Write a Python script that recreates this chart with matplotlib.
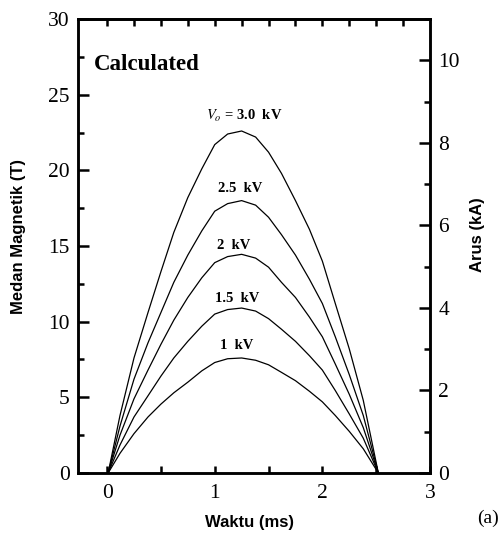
import matplotlib
matplotlib.use("Agg")
import matplotlib.pyplot as plt
from matplotlib.ticker import MultipleLocator

# ---- data ----
time_ms = [0.01, 0.12, 0.25, 0.38, 0.5, 0.62, 0.75, 0.88, 1.0, 1.12, 1.25, 1.38,
           1.5, 1.62, 1.75, 1.88, 2.0, 2.12, 2.25, 2.38, 2.52]
b_3_0kV = [0, 3.8, 7.6, 10.6, 13.3, 15.9, 18.2, 20.1, 21.7, 22.4, 22.6, 22.2,
           21.2, 19.8, 18.0, 16.1, 14.0, 11.2, 8.2, 4.8, 0]
b_2_5kV = [0, 3.1, 6.2, 8.6, 10.6, 12.6, 14.4, 16.0, 17.3, 17.8, 18.0, 17.7,
           16.9, 15.75, 14.4, 12.8, 11.2, 9.0, 6.5, 3.8, 0]
b_2_0kV = [0, 2.5, 4.9, 6.8, 8.5, 10.1, 11.6, 12.9, 13.9, 14.3, 14.45, 14.2,
           13.6, 12.6, 11.6, 10.3, 9.0, 7.2, 5.2, 3.0, 0]
b_1_5kV = [0, 1.85, 3.7, 5.1, 6.4, 7.6, 8.7, 9.7, 10.5, 10.8, 10.9, 10.7,
           10.2, 9.5, 8.7, 7.75, 6.8, 5.45, 3.9, 2.3, 0]
b_1_0kV = [0, 1.3, 2.6, 3.7, 4.55, 5.3, 6.0, 6.75, 7.3, 7.55, 7.6, 7.45,
           7.15, 6.65, 6.1, 5.4, 4.7, 3.8, 2.75, 1.6, 0]
series = [b_3_0kV, b_2_5kV, b_2_0kV, b_1_5kV, b_1_0kV]

curve_labels = [r"$V_o$ = 3.0  kV", "2.5  kV", "2  kV", "1.5  kV", "1  kV"]
label_x = [1.27, 1.24, 1.18, 1.21, 1.20]
label_y = [23.6, 18.8, 15.0, 11.55, 8.4]

x_ticks = [0, 1, 2, 3]
left_ticks = [0, 5, 10, 15, 20, 25, 30]
right_ticks = [0, 2, 4, 6, 8, 10]

plt.rcParams["font.family"] = ["Liberation Serif", "DejaVu Serif"]
plt.rcParams["mathtext.fontset"] = "stix"

fig = plt.figure(figsize=(5.02, 5.37), dpi=100)
ax = fig.add_axes([0.1554, 0.1192, 0.7012, 0.8454])

for s in series:
    ax.plot(time_ms, s, color="black", lw=0.9)

for t, xx, yy in zip(curve_labels, label_x, label_y):
    ax.text(xx, yy, t, ha="center", va="center", fontsize=10.5,
            fontweight="bold", family=["Liberation Serif", "DejaVu Serif"])

ax.text(-0.12, 27.0, "Calculated", ha="left", va="center", fontsize=16.5,
        fontweight="bold")

ax.set_xlim(-0.27, 3.0)
ax.set_ylim(0, 30)
ax.set_xticks(x_ticks)
ax.xaxis.set_minor_locator(MultipleLocator(0.5))
ax.set_yticks(left_ticks)
ax.yaxis.set_minor_locator(MultipleLocator(2.5))

ax.tick_params(axis="x", which="both", direction="in", length=5, width=1.8,
               labelsize=15.5, pad=8, top=False)
ax.tick_params(axis="y", which="major", direction="in", length=8, width=1.8,
               labelsize=15.5, pad=6)
ax.tick_params(axis="y", which="minor", direction="in", length=4.5, width=1.8)

top = ax.secondary_xaxis("top")
top.set_xticks([i * 0.25 for i in range(0, 12)])
top.tick_params(direction="in", length=5, width=1.8, labeltop=False)
top.set_xticklabels([])

ax2 = ax.twinx()
ax2.set_ylim(0, 11.0)
ax2.set_yticks(right_ticks)
ax2.yaxis.set_minor_locator(MultipleLocator(1))
ax2.tick_params(axis="y", which="major", direction="in", length=8, width=1.8,
                labelsize=15.5, pad=6)
ax2.tick_params(axis="y", which="minor", direction="in", length=4.5, width=1.8)

for a in (ax, ax2):
    for sp in a.spines.values():
        sp.set_linewidth(1.8)
top.spines["top"].set_linewidth(1.8)

lab_font = dict(family=["Liberation Sans", "DejaVu Sans"], fontweight="bold",
                fontsize=12)
ax.set_xlabel("Waktu (ms)", **lab_font)
ax.xaxis.set_label_coords(0.486, -0.108)
ax.xaxis.label.set_va("center")
ax.set_ylabel("Medan Magnetik (T)", **lab_font)
ax.yaxis.set_label_coords(-0.168, 0.52)
ax.yaxis.label.set_va("center")
ax2.set_ylabel("Arus (kA)", rotation=90, **lab_font)
ax2.yaxis.set_label_coords(1.136, 0.524)
ax2.yaxis.label.set_va("center")

fig.text(0.972, 0.035, "(a)", ha="center", va="center", fontsize=14)

fig.savefig("out.png", dpi=100)
